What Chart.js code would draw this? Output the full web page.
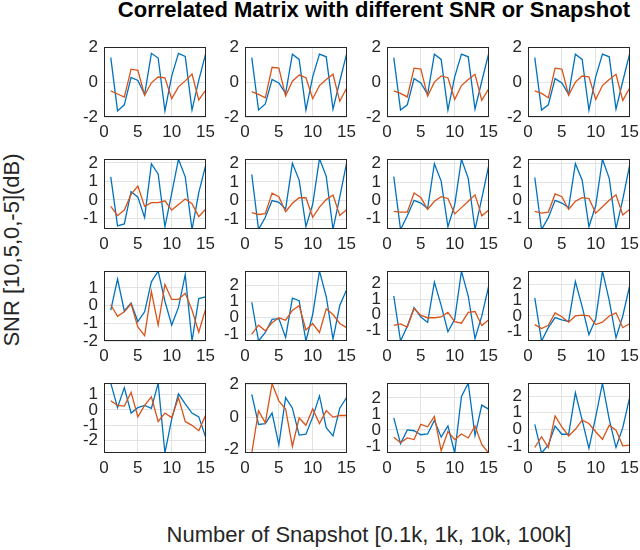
<!DOCTYPE html>
<html>
<head>
<meta charset="utf-8">
<script src="https://cdn.jsdelivr.net/npm/chart.js@4/dist/chart.umd.min.js"></script>
<style>
body { margin: 0; background: #fff; }
#fig { position: relative; width: 640px; height: 550px; font-family: "Liberation Sans", Arial, sans-serif; color: #262626; overflow: hidden; }
#fig canvas { position: absolute; }
.title { position: absolute; right: 10px; top: -3px; font-weight: bold; font-size: 22px; color: #000; white-space: nowrap; }
.ylabel { position: absolute; left: 12px; top: 250px; transform: translate(-50%, -50%) rotate(-90deg); font-size: 22px; white-space: nowrap; }
.xlabel { position: absolute; left: 369px; top: 535px; transform: translate(-50%, -50%); font-size: 22px; white-space: nowrap; }
</style>
</head>
<body>
<div id="fig">
	<div class="title">Correlated Matrix with different SNR or Snapshot</div>
	<div class="ylabel">SNR [10,5,0,-5](dB)</div>
	<div class="xlabel">Number of Snapshot [0.1k, 1k, 10k, 100k]</div>
</div>
<script>
// snapshot index on the x axis
const snapshots = [1, 2, 3, 4, 5, 6, 7, 8, 9, 10, 11, 12, 13, 14, 15];
const xTicks = [0, 5, 10, 15];

// row 1 (SNR 10 dB)
const blueR1C1 = [1.4, -1.65, -1.3, 0.27, 0.09, -0.7, 1.65, 1.38, -1.65, 0.34, 1.65, 1.47, -1.6, 0.1, 1.6];
const orangeR1C1 = [-0.5, -0.68, -0.86, 0.74, 0.68, -0.75, -0.04, 0.29, 0.25, -0.95, -0.27, 0.07, 0.46, -1.02, -0.47];
const blueR1C2 = [1.4, -1.6, -1.25, 0.15, -0.05, -0.65, 1.6, 1.3, -1.6, 0.3, 1.6, 1.45, -1.55, 0.05, 1.6];
const orangeR1C2 = [-0.55, -0.7, -0.9, 0.85, 0.8, -0.8, 0.05, 0.4, 0.25, -0.95, -0.2, 0.15, 0.45, -1.1, -0.35];
const blueR1C3 = [1.4, -1.6, -1.3, 0.2, -0.05, -0.7, 1.6, 1.3, -1.6, 0.3, 1.6, 1.45, -1.55, 0.05, 1.6];
const orangeR1C3 = [-0.5, -0.65, -0.85, 0.8, 0.75, -0.8, 0.0, 0.35, 0.25, -1.0, -0.2, 0.15, 0.45, -1.05, -0.4];
const blueR1C4 = [1.4, -1.6, -1.3, 0.2, -0.05, -0.7, 1.6, 1.3, -1.6, 0.3, 1.6, 1.45, -1.55, 0.05, 1.6];
const orangeR1C4 = [-0.5, -0.65, -0.9, 0.8, 0.75, -0.75, 0.0, 0.35, 0.3, -1.0, -0.2, 0.15, 0.45, -1.05, -0.35];

// row 2 (SNR 5 dB)
const blueR2C1 = [1.25, -1.4, -1.3, 0.45, 0.15, -0.95, 1.95, 1.4, -1.45, 0.35, 2.2, 1.25, -1.6, 0.4, 1.85];
const orangeR2C1 = [-0.35, -0.85, -0.55, 0.3, 0.75, -0.35, -0.15, -0.15, -0.05, -0.55, -0.25, 0.05, -0.2, -0.9, -0.5];
const blueR2C2 = [1.4, -1.55, -0.9, 0.0, -0.1, -0.45, 2.0, 1.1, -1.4, -0.2, 2.25, 1.3, -1.55, 0.2, 2.0];
const orangeR2C2 = [-0.65, -0.75, -0.7, 0.4, 0.2, -0.6, -0.15, 0.15, 0.15, -0.9, -0.35, 0.05, 0.3, -0.8, -0.5];
const blueR2C3 = [1.3, -1.6, -0.85, 0.0, -0.15, -0.45, 2.0, 1.05, -1.45, -0.25, 2.25, 1.2, -1.6, 0.1, 1.85];
const orangeR2C3 = [-0.6, -0.65, -0.65, 0.4, 0.15, -0.5, -0.05, 0.2, 0.1, -0.75, -0.4, -0.05, 0.3, -0.85, -0.55];
const blueR2C4 = [1.25, -1.6, -0.95, 0.0, -0.15, -0.4, 2.0, 1.1, -1.45, -0.3, 2.25, 1.2, -1.55, 0.05, 1.9];
const orangeR2C4 = [-0.6, -0.7, -0.65, 0.35, 0.2, -0.5, -0.05, 0.15, 0.1, -0.7, -0.35, 0.0, 0.3, -0.8, -0.5];

// row 3 (SNR 0 dB)
const blueR3C1 = [-0.25, 1.5, -0.3, 0.15, -0.9, -0.35, 1.35, 1.95, 0.25, -1.1, -0.1, 1.75, -2.0, 0.4, 0.5];
const orangeR3C1 = [0.05, -0.6, -0.35, 0.1, -1.2, -1.7, 0.8, -1.1, 1.2, 0.35, 0.35, 0.7, -0.25, -1.5, -0.2];
const blueR3C2 = [0.95, -1.42, -0.9, -0.1, -0.05, -1.2, 1.2, 1.05, -1.42, 0.2, 2.85, 1.3, -1.3, 0.75, 1.7];
const orangeR3C2 = [-1.0, -0.45, -0.8, -0.3, 0.0, -0.15, 0.45, 0.75, -0.75, -0.35, -0.9, 0.55, 0.2, -0.35, -0.6];
const blueR3C3 = [1.2, -1.7, -0.75, 0.45, -0.15, -0.5, 2.1, 0.6, -1.1, -0.3, 2.8, 1.2, -1.55, -0.1, 1.8];
const orangeR3C3 = [-0.7, -0.6, -0.8, 0.4, -0.05, -0.2, -0.2, -0.15, 0.15, -0.45, -0.55, 0.15, 0.2, -0.7, -0.35];
const blueR3C4 = [1.15, -1.6, -0.75, -0.1, -0.25, -0.35, 2.2, 0.6, -1.2, -0.2, 2.86, 1.0, -1.4, 0.0, 1.9];
const orangeR3C4 = [-0.55, -0.8, -0.6, 0.2, -0.05, -0.4, 0.0, 0.05, 0.0, -0.55, -0.4, 0.0, 0.2, -0.75, -0.5];

// row 4 (SNR -5 dB)
const blueR4C1 = [1.74, 0.15, 1.45, -0.2, 0.15, 0.3, 0.1, 1.74, -2.8, -0.6, 1.05, 0.4, -0.2, -0.45, -1.75];
const orangeR4C1 = [0.6, 0.3, 0.25, 1.15, -0.45, 0.3, 0.85, -0.75, -0.2, -0.5, 0.8, -0.75, -1.0, -1.35, -0.35];
const blueR4C2 = [1.4, -0.45, -0.4, 0.25, -1.7, 1.2, 0.55, -1.1, -1.05, 0.0, 1.3, -0.65, -1.15, 0.55, 1.2];
const orangeR4C2 = [-2.2, 0.4, -0.35, 2.05, 1.0, 0.5, -1.8, -0.05, -0.5, 0.5, -0.4, 0.4, 0.0, 0.1, 0.1];
const blueR4C3 = [0.75, -0.85, 0.0, -0.05, -0.3, -0.25, 0.6, -0.45, 0.25, -1.44, 2.1, 2.92, -0.35, 1.55, 1.3];
const orangeR4C3 = [-0.45, -0.8, -0.5, -0.6, 0.35, 0.2, 0.85, -1.3, -0.1, -0.6, -0.25, -0.5, 0.25, -0.9, -1.44];
const blueR4C4 = [0.3, -1.43, -0.95, 0.2, -0.3, -0.3, 2.2, 0.55, -1.15, 0.75, 2.78, 0.6, -1.1, 0.1, 1.9];
const orangeR4C4 = [-1.1, -0.45, -1.1, 0.8, 0.15, -0.4, 0.0, 0.55, 0.35, -0.15, -0.6, 0.25, -0.05, -1.0, -0.95];

// y limits and tick step per panel, row by row
const yMin = [-2, -2, -2, -2, -1.57, -1.53, -1.57, -1.57, -2, -1.42, -1.7, -1.6, -2.8, -2.2, -1.44, -1.43];
const yMax = [2, 2, 2, 2, 2.2, 2.22, 2.25, 2.25, 1.95, 2.85, 2.8, 2.86, 1.74, 2.08, 2.92, 2.78];
const yStep = [2, 2, 2, 2, 1, 1, 1, 1, 1, 1, 1, 1, 1, 2, 1, 1];

const blueSeries = [blueR1C1, blueR1C2, blueR1C3, blueR1C4, blueR2C1, blueR2C2, blueR2C3, blueR2C4,
	blueR3C1, blueR3C2, blueR3C3, blueR3C4, blueR4C1, blueR4C2, blueR4C3, blueR4C4];
const orangeSeries = [orangeR1C1, orangeR1C2, orangeR1C3, orangeR1C4, orangeR2C1, orangeR2C2, orangeR2C3, orangeR2C4,
	orangeR3C1, orangeR3C2, orangeR3C3, orangeR3C4, orangeR4C1, orangeR4C2, orangeR4C3, orangeR4C4];

const colLeft = [104, 245, 387, 528];
const rowTop = [41, 153, 265, 377];
const plotW = 104, plotH = 76;
const padL = 40, padR = 12, padT = 10, padB = 28;

const tickFont = { family: '"Liberation Sans", Arial, sans-serif', size: 17 };
const gridColor = '#e3e3e3';
const textColor = '#262626';

const boxPlugin = {
	id: 'box',
	afterDraw(chart) {
		const { ctx, chartArea: a } = chart;
		ctx.save();
		ctx.strokeStyle = '#262626';
		ctx.lineWidth = 1;
		ctx.strokeRect(Math.round(a.left) + 0.5, Math.round(a.top) + 0.5, Math.round(a.right - a.left) - 1, Math.round(a.bottom - a.top) - 1);
		ctx.restore();
	}
};

function toPoints(values) {
	return snapshots.map((x, i) => ({ x: x, y: values[i] }));
}

function CreatePanel(index) {
	const row = Math.floor(index / 4);
	const col = index % 4;

	const canvas = document.createElement('canvas');
	canvas.width = padL + plotW + padR;
	canvas.height = padT + plotH + padB;
	canvas.style.left = (colLeft[col] - padL) + 'px';
	canvas.style.top = (rowTop[row] - padT) + 'px';
	document.getElementById('fig').appendChild(canvas);

	const lo = yMin[index], hi = yMax[index], step = yStep[index];

	new Chart(canvas.getContext('2d'), {
		type: 'line',
		data: {
			datasets: [
				{ data: toPoints(blueSeries[index]), borderColor: '#0072BD', borderWidth: 1.3, pointRadius: 0, order: 1 },
				{ data: toPoints(orangeSeries[index]), borderColor: '#D95319', borderWidth: 1.3, pointRadius: 0, order: 0 }
			]
		},
		options: {
			responsive: false,
			animation: false,
			events: [],
			layout: { padding: { left: 0, right: padR, top: padT, bottom: 0 } },
			plugins: { legend: { display: false }, tooltip: { enabled: false } },
			scales: {
				x: {
					type: 'linear',
					min: 0,
					max: 15,
					afterBuildTicks: s => { s.ticks = xTicks.map(v => ({ value: v })); },
					afterFit: s => { s.height = padB; },
					ticks: { font: tickFont, color: textColor, padding: 5, autoSkip: false, maxRotation: 0, callback: v => String(v) },
					grid: { color: gridColor, drawTicks: false },
					border: { display: false }
				},
				y: {
					type: 'linear',
					min: lo,
					max: hi,
					afterBuildTicks: s => {
						const ticks = [];
						for (let v = Math.ceil(lo / step - 1e-9) * step; v <= hi + 1e-9; v += step) {
							ticks.push({ value: v });
						}
						s.ticks = ticks;
					},
					afterFit: s => { s.width = padL; },
					ticks: { font: tickFont, color: textColor, padding: 6, autoSkip: false, callback: v => String(v) },
					grid: { color: gridColor, drawTicks: false },
					border: { display: false }
				}
			}
		},
		plugins: [boxPlugin]
	});
}

for (let i = 0; i < 16; i++) {
	CreatePanel(i);
}
</script>
</body>
</html>
